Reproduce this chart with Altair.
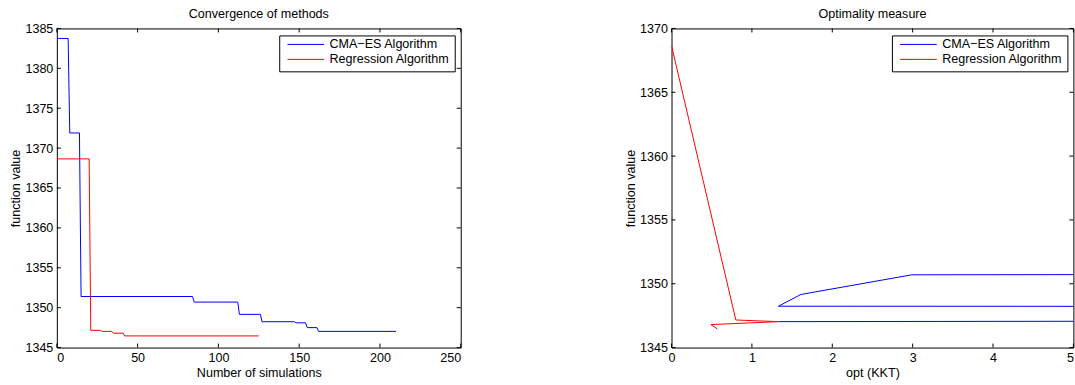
import altair as alt
import pandas as pd

# ---------------- data ----------------
# Left panel: best function value vs. number of simulations
cma_sims = [0, 7, 8, 14, 15, 84, 85, 112, 113, 126, 127, 147, 148, 154, 155, 161, 162, 210]
cma_vals = [1383.75, 1383.75, 1371.9, 1371.9, 1351.4, 1351.4, 1350.7, 1350.7, 1349.16,
            1349.16, 1348.24, 1348.24, 1348.1, 1348.1, 1347.5, 1347.5, 1347.03, 1347.03]
reg_sims = [0, 20, 21, 27, 28, 34, 35, 41, 42, 125]
reg_vals = [1368.65, 1368.65, 1347.16, 1347.16, 1347.03, 1347.03, 1346.8, 1346.8, 1346.46, 1346.46]

# Right panel: function value vs. optimality measure (connected in iteration order)
cma_opt = [150, 120, 100, 2.99, 1.61, 1.33, 60, 60, 1.33]
cma_opt_vals = [1383.75, 1371.9, 1351.4, 1350.7, 1349.16, 1348.24, 1348.1, 1347.5, 1347.03]
reg_opt = [0, 0.80, 1.33, 0.49, 0.57]
reg_opt_vals = [1368.65, 1347.16, 1347.03, 1346.8, 1346.46]

series_names = ["CMA\u2212ES Algorithm", "Regression Algorithm"]
series_colors = ["#0000ff", "#ff0000"]

left_xticks = [0, 50, 100, 150, 200, 250]
left_yticks = [1345, 1350, 1355, 1360, 1365, 1370, 1375, 1380, 1385]
right_xticks = [0, 1, 2, 3, 4, 5]
right_yticks = [1345, 1350, 1355, 1360, 1365, 1370]

FONT = "Liberation Sans"
FS = 12.6


def make_df(xa, ya, xb, yb):
    rows = []
    for i, (x, y) in enumerate(zip(xa, ya)):
        rows.append({"x": x, "val": y, "series": series_names[0], "idx": i})
    for i, (x, y) in enumerate(zip(xb, yb)):
        rows.append({"x": x, "val": y, "series": series_names[1], "idx": i})
    return pd.DataFrame(rows)


def panel(df, xtitle, xdom, xticks, ydom, yticks, title, W, H, last_right=False):
    xscale = alt.Scale(domain=xdom, nice=False, zero=False)
    yscale = alt.Scale(domain=ydom, nice=False, zero=False)
    xaxis_kw = dict(values=xticks, ticks=False, grid=False, domain=False, title=xtitle,
                    labelPadding=4, titlePadding=2, format="d")
    if last_right:
        xaxis_kw["labelAlign"] = {"condition": {"test": "datum.value >= 5", "value": "right"},
                                  "value": "center"}
    xaxis = alt.Axis(**xaxis_kw)
    yaxis = alt.Axis(values=yticks, ticks=False, grid=False, domain=False,
                     title="function value", labelPadding=4, titlePadding=2.5, format="d")
    lines = alt.Chart(df).mark_line(strokeWidth=1, clip=True).encode(
        x=alt.X("x:Q", scale=xscale, axis=xaxis),
        y=alt.Y("val:Q", scale=yscale, axis=yaxis),
        color=alt.Color("series:N",
                        scale=alt.Scale(domain=series_names, range=series_colors),
                        legend=alt.Legend(title=None, orient="top-right", offset=6.5,
                                          symbolType="stroke", symbolSize=1347,
                                          symbolStrokeWidth=1, labelFont=FONT,
                                          labelFontSize=FS, labelColor="black",
                                          padding=4.5, rowPadding=1, clipHeight=9,
                                          symbolOffset=3.1, labelOffset=4.8,
                                          strokeColor="black", fillColor="white",
                                          cornerRadius=0)),
        order=alt.Order("idx:Q"),
    )
    xt = pd.DataFrame({"x": xticks})
    yt = pd.DataFrame({"val": yticks})
    blk = alt.value("black")
    tick_b = alt.Chart(xt).mark_rule(strokeWidth=1).encode(
        x=alt.X("x:Q", scale=xscale, axis=xaxis), y=alt.value(H - 4), y2=alt.value(H), color=blk)
    tick_t = alt.Chart(xt).mark_rule(strokeWidth=1).encode(
        x=alt.X("x:Q", scale=xscale, axis=xaxis), y=alt.value(0), y2=alt.value(4), color=blk)
    tick_l = alt.Chart(yt).mark_rule(strokeWidth=1).encode(
        y=alt.Y("val:Q", scale=yscale, axis=yaxis), x=alt.value(0), x2=alt.value(4), color=blk)
    tick_r = alt.Chart(yt).mark_rule(strokeWidth=1).encode(
        y=alt.Y("val:Q", scale=yscale, axis=yaxis), x=alt.value(W - 4), x2=alt.value(W), color=blk)
    return alt.layer(lines, tick_b, tick_t, tick_l, tick_r).properties(
        width=W, height=H,
        title=alt.TitleParams(title, font=FONT, fontSize=FS, fontWeight="normal",
                              color="black", anchor="middle", offset=1.5),
    )


left_df = make_df(cma_sims, cma_vals, reg_sims, reg_vals)
right_df = make_df(cma_opt, cma_opt_vals, reg_opt, reg_opt_vals)

left = panel(left_df, "Number of simulations", [0, 250], left_xticks, [1345, 1385],
             left_yticks, "Convergence of methods", 405, 320)
right = panel(right_df, "opt (KKT)", [0, 5], right_xticks, [1345, 1370],
              right_yticks, "Optimality measure", 403, 320, last_right=True)

chart = alt.hconcat(left, right, spacing=211.4, bounds="flush").resolve_scale(
    color="independent").resolve_legend(color="independent").properties(
    padding={"left": 8, "top": 7, "right": 0, "bottom": 0},
    background="white",
).configure_view(stroke="black", strokeWidth=1).configure_axis(
    labelFont=FONT, labelFontSize=FS, labelColor="black",
    titleFont=FONT, titleFontSize=FS, titleFontWeight="normal", titleColor="black",
)

chart.save("out.html", embed_options={"renderer": "svg", "actions": False})
